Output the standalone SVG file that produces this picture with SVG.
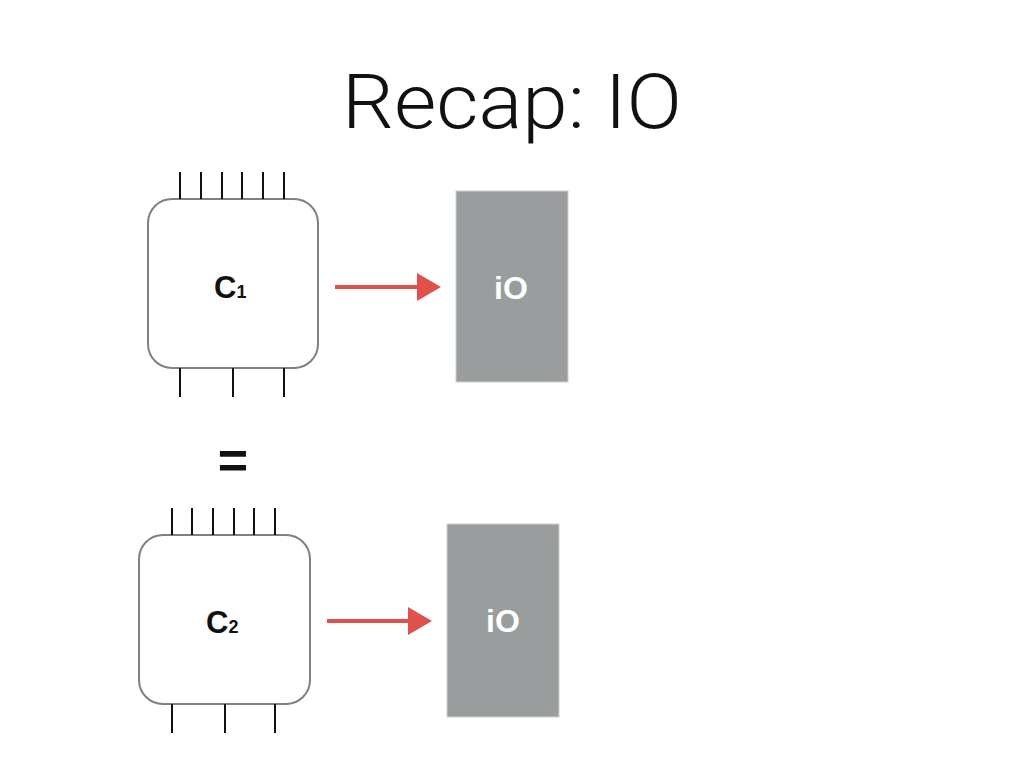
<svg xmlns="http://www.w3.org/2000/svg" width="1024" height="768" viewBox="0 0 1024 768">
<style>
.chip{fill:#fff;stroke:#808080;stroke-width:2}
.pin{stroke:#111;stroke-width:2}
.io{fill:#9a9d9d;stroke:#d0d0d0;stroke-width:1}
.iot{font-family:"Liberation Sans",Arial,sans-serif;font-weight:bold;font-size:32px;fill:#fff;text-anchor:middle}
.lbl{font-family:"Liberation Sans",Arial,sans-serif;font-weight:bold;font-size:31px;fill:#111}
.sub{font-size:18px}
.arr{stroke:#e0514c;stroke-width:4;fill:none}
</style>
<defs>
<marker id="ah" markerWidth="6" markerHeight="7" refX="1" refY="3.5" orient="auto" markerUnits="strokeWidth">
<path d="M0,0 L6,3.5 L0,7 Z" fill="#e0514c"/>
</marker>
</defs>
<rect width="1024" height="768" fill="#fff"/>
<text x="512" y="128" font-family="Roboto,Liberation Sans,sans-serif" font-weight="300" font-size="76" text-anchor="middle" fill="#111" textLength="340" lengthAdjust="spacingAndGlyphs">Recap: IO</text>
<g id="chip1">
<rect class="chip" x="148" y="199" width="170" height="169" rx="24"/>
<path class="pin" d="M180,172V199M201,172V199M222,172V199M242,172V199M263,172V199M284,172V199M180,368V397M233,368V397M284,368V397"/>
<text class="lbl" x="214" y="298">C<tspan class="sub">1</tspan></text>
</g>
<g id="io1">
<rect class="io" x="456" y="191" width="112" height="191"/>
<text class="iot" x="511" y="299">iO</text>
</g>
<text x="233" y="478" font-family="Liberation Sans,Arial,sans-serif" font-weight="bold" font-size="52" text-anchor="middle" fill="#111">=</text>
<g id="chip2">
<rect class="chip" x="139" y="535" width="171" height="169" rx="24"/>
<path class="pin" d="M172,508V535M192,508V535M213,508V535M234,508V535M254,508V535M275,508V535M172,704V733M225,704V733M275,704V733"/>
<text class="lbl" x="206" y="633">C<tspan class="sub">2</tspan></text>
</g>
<g id="io2">
<rect class="io" x="447" y="524" width="112" height="193"/>
<text class="iot" x="503" y="632">iO</text>
</g>
<g id="connectors">
<path class="arr" d="M335,287 L421,287" marker-end="url(#ah)"/>
<path class="arr" d="M327,621 L412,621" marker-end="url(#ah)"/>
</g>
</svg>
